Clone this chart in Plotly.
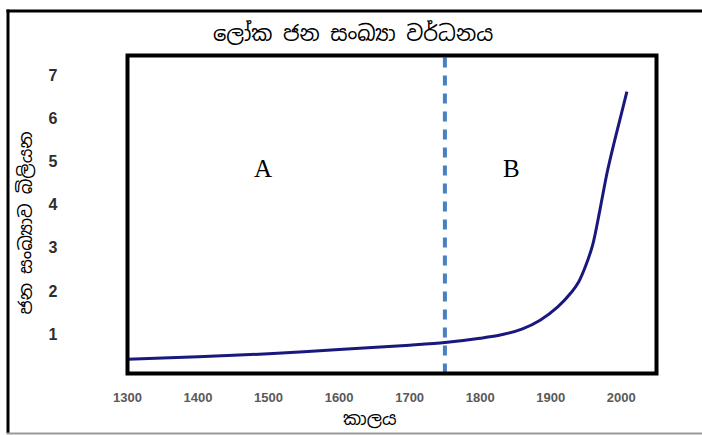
import plotly.graph_objects as go

# ---- data ----
years = [1300, 1400, 1500, 1600, 1700, 1750, 1800, 1830, 1860, 1885, 1910,
         1930, 1940, 1950, 1960, 1970, 1980, 1990, 2000, 2008]
population_billion = [0.41, 0.47, 0.54, 0.64, 0.74, 0.80, 0.90, 0.98, 1.12, 1.32, 1.63,
                      1.98, 2.22, 2.60, 3.10, 3.90, 4.75, 5.45, 6.10, 6.63]
x_ticks = [1300, 1400, 1500, 1600, 1700, 1800, 1900, 2000]
y_ticks = [1, 2, 3, 4, 5, 6, 7]
divider_year = 1750
region_labels = ["A", "B"]
region_label_x = [1492, 1845]
region_label_y = [4.85, 4.85]

title_text = "ලෝක ජන සංඛ්‍යා වර්ධනය"
x_title = "කාලය"
y_title = "ජන සංඛ්‍යාව බිලියන"

W, H = 702, 435
SIN_FONT = "Noto Sans Sinhala, Noto Serif Sinhala, Iskoola Pota, Lohit Sinhala, sans-serif"

# plot box in pixels
bx0, bx1 = 127.5, 656.5
by0, by1 = 55.5, 373.5


def px(x):
    return x / W


def py(y):
    return 1 - y / H


fig = go.Figure()
fig.add_trace(go.Scatter(
    x=years, y=population_billion, mode="lines",
    line=dict(color="#18187e", width=3, shape="spline", smoothing=0.8),
    hoverinfo="skip", showlegend=False,
))

# y range so that 0 sits at pixel 377 and one unit is 43.05 px
y_lo = (377 - by1) / 43.05
y_hi = (377 - by0) / 43.05

fig.update_layout(
    width=W, height=H, autosize=False,
    margin=dict(l=0, r=0, t=0, b=0, autoexpand=False),
    paper_bgcolor="white", plot_bgcolor="white",
    xaxis=dict(
        domain=[px(bx0), px(bx1)], range=[1300, 2050], automargin=False,
        tickvals=x_ticks, ticktext=[str(v) for v in x_ticks],
        showgrid=False, zeroline=False, showline=False,
        ticks="outside", ticklen=12, tickcolor="rgba(0,0,0,0)",
        tickfont=dict(family="Liberation Sans, Arial, sans-serif", size=13,
                      color="#595959", weight="bold"),
    ),
    yaxis=dict(
        domain=[py(by1), py(by0)], range=[y_lo, y_hi], automargin=False,
        tickvals=y_ticks, ticktext=[str(v) for v in y_ticks],
        showgrid=False, zeroline=False, showline=False,
        ticks="outside", ticklen=66, tickcolor="rgba(0,0,0,0)",
        tickfont=dict(family="Liberation Sans, Arial, sans-serif", size=16,
                      color="#2e2e2e", weight="bold"),
    ),
)

shapes = [
    # divider
    dict(type="line", xref="x", yref="paper", x0=divider_year, x1=divider_year,
         y0=py(by1), y1=py(by0), line=dict(color="#4a7fc0", width=4, dash="10px,8px"),
         layer="above"),
    # plot box
    dict(type="rect", xref="paper", yref="paper", x0=px(bx0), x1=px(bx1),
         y0=py(by1), y1=py(by0), line=dict(color="black", width=4), layer="above"),
    # outer frame: top, left (black), bottom (gray)
    dict(type="line", xref="paper", yref="paper", x0=px(6.5), x1=1.0,
         y0=py(11), y1=py(11), line=dict(color="black", width=3)),
    dict(type="line", xref="paper", yref="paper", x0=px(8), x1=px(8),
         y0=py(9.5), y1=py(433), line=dict(color="black", width=3)),
    dict(type="line", xref="paper", yref="paper", x0=px(6.5), x1=1.0,
         y0=py(433.5), y1=py(433.5), line=dict(color="#9a9a9a", width=2)),
]
fig.update_layout(shapes=shapes)

annotations = [
    dict(text=title_text, xref="paper", yref="paper", x=px(353), y=py(33),
         showarrow=False, xanchor="center", yanchor="middle",
         font=dict(family=SIN_FONT, size=21, color="black")),
    dict(text=x_title, xref="paper", yref="paper", x=px(370), y=py(418),
         showarrow=False, xanchor="center", yanchor="middle",
         font=dict(family=SIN_FONT, size=18, color="black")),
    dict(text=y_title, xref="paper", yref="paper", x=px(25.5), y=py(223),
         showarrow=False, xanchor="center", yanchor="middle", textangle=-90,
         font=dict(family=SIN_FONT, size=18, color="black")),
]
for lab, lx, ly in zip(region_labels, region_label_x, region_label_y):
    annotations.append(dict(text=lab, xref="x", yref="y", x=lx, y=ly,
                            showarrow=False, xanchor="center", yanchor="middle",
                            font=dict(family="Liberation Serif, Times New Roman, serif",
                                      size=25, color="black")))
fig.update_layout(annotations=annotations)

fig.write_html(
    "out.html",
    config={"displayModeBar": False},
    post_script="document.body.style.margin='0px';document.body.style.overflow='hidden';",
)
